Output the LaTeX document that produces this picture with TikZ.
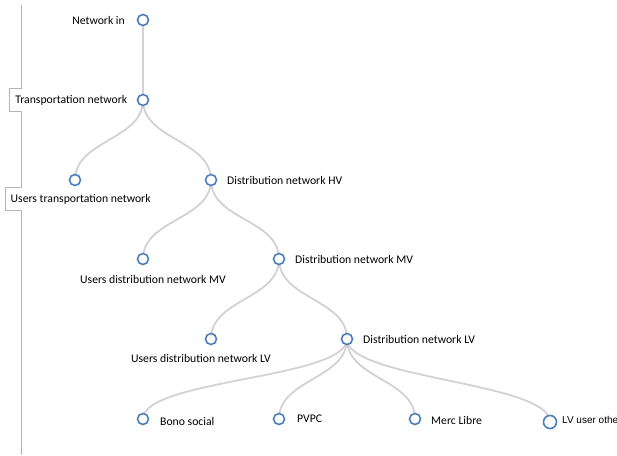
\documentclass[tikz,border=0pt]{standalone}
\usepackage{fontspec}
\setmainfont{Carlito}
\newfontfamily\arialfont{Liberation Sans}
\usetikzlibrary{positioning,backgrounds}
\definecolor{MyNodeBlue}{RGB}{74,126,187}
\definecolor{MyLinkGray}{RGB}{210,210,210}
\definecolor{MyRailGray}{RGB}{180,180,180}

\begin{document}
\begin{tikzpicture}[x=1pt, y=1pt,
		dot/.style={circle, draw=MyNodeBlue, line width=1.6pt, fill=white,
			minimum size=11pt, inner sep=0pt},
		link/.style={draw=MyLinkGray, line width=1.8pt},
		lbl/.style={font=\fontsize{11.7}{13}\selectfont, inner sep=1pt},
		tagbox/.style={lbl, inner xsep=5.5pt, inner ysep=2pt, minimum height=22pt},
		rail/.style={draw=MyRailGray, line width=1pt}]
		\useasboundingbox (0,0) rectangle (617,455);
		% tree nodes
		\node[dot] (netin) at (143,435) {};
		\node[dot] (trans) at (143,355) {};
		\node[dot] (utrans) at (75,275) {};
		\node[dot] (dhv) at (211,275) {};
		\node[dot] (udmv) at (143,196) {};
		\node[dot] (dmv) at (279,196) {};
		\node[dot] (udlv) at (211,116) {};
		\node[dot] (dlv) at (347,116) {};
		\node[dot] (bono) at (143,36) {};
		\node[dot] (pvpc) at (279,36) {};
		\node[dot] (merc) at (415,36) {};
		\node[dot, minimum size=13pt] (lvother) at (550,33) {};
		% labels
		\node[lbl, anchor=east] (netinlbl) at (126,435) {Network in};
		\node[tagbox, anchor=east] (translbl) at (133,355) {Transportation network};
		\node[tagbox, anchor=north west] (utranslbl) at (5,267) {Users transportation network};
		\node[lbl, anchor=west] (dhvlbl) at (226,275) {Distribution network HV};
		\node[lbl] (udmvlbl) at (153,176) {Users distribution network MV};
		\node[lbl, anchor=west] (dmvlbl) at (294,196) {Distribution network MV};
		\node[lbl] (udlvlbl) at (201,97) {Users distribution network LV};
		\node[lbl, anchor=west] (dlvlbl) at (362,116) {Distribution network LV};
		\node[lbl, anchor=west] (bonolbl) at (159,34) {Bono social};
		\node[lbl, anchor=west] (pvpclbl) at (296,36) {PVPC};
		\node[lbl, anchor=west] (merclbl) at (430,35) {Merc Libre};
		\node[lbl, anchor=west, font=\arialfont\fontsize{10}{12}\selectfont] (lvotherlbl) at (561,35) {LV user other};
		% links and left rail
		\begin{scope}[on background layer]
			\coordinate (railtop) at (21,450);
			\coordinate (railbot) at (21,0);
			\draw[rail] (railtop) |- (translbl.north west) -- (translbl.south west)
				-| (railbot |- utranslbl.north) -- (utranslbl.north west)
				-- (utranslbl.south west) -| (railbot);
			\foreach \from/\to in {netin/trans, trans/utrans, trans/dhv, dhv/udmv, dhv/dmv,
				dmv/udlv, dmv/dlv, dlv/bono, dlv/pvpc, dlv/merc, dlv/lvother}
				\draw[link] (\from.center) .. controls +(0,-40) and +(0,40) .. (\to.center);
		\end{scope}
	\end{tikzpicture}
\end{document}
